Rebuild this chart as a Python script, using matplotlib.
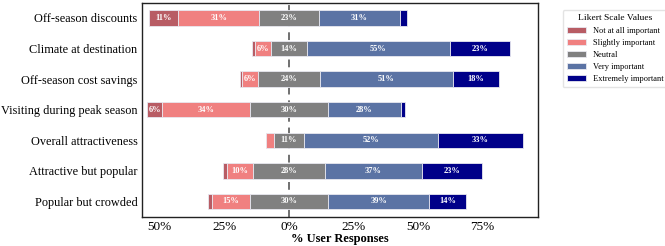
import numpy as np
import matplotlib.pyplot as plt

plt.rcParams['font.family'] = ['Liberation Serif', 'DejaVu Serif']

questions = ["Off-season discounts", "Climate at destination", "Off-season cost savings",
             "Visiting during peak season", "Overall attractiveness",
             "Attractive but popular", "Popular but crowded"]
levels = ["Not at all important", "Slightly important", "Neutral",
          "Very important", "Extremely important"]
colors = ["#b85c64", "#f08080", "#808080", "#5b73a4", "#000089"]

not_at_all = [11.4, 1.2, 0.6, 5.9, 0.0, 1.5, 1.5]
slightly = [31.4, 6.3, 6.3, 33.8, 3.3, 10.0, 14.8]
neutral = [23.0, 13.9, 24.0, 30.4, 11.4, 27.9, 30.2]
very = [31.4, 55.3, 51.4, 28.0, 52.0, 37.4, 39.2]
extremely = [2.7, 23.3, 17.8, 1.8, 32.9, 23.4, 14.4]

data = np.array([not_at_all, slightly, neutral, very, extremely]).T
xticks = [-50, -25, 0, 25, 50, 75]

fig = plt.figure(figsize=(6.65, 2.46), dpi=100)
ax = fig.add_axes([0.213, 0.119, 0.596, 0.870])

y = np.arange(len(questions))
starts = -(data[:, 0] + data[:, 1] + data[:, 2] / 2)

ax.axvline(0, color='#707070', linestyle='--', linewidth=1.4, zorder=0, dashes=(4, 3))

left = starts.copy()
for j, lev in enumerate(levels):
    w = data[:, j]
    ax.barh(y, w, left=left, height=0.5, color=colors[j], edgecolor='#e8e8f0',
            linewidth=0.6, label=lev, zorder=2)
    for i in range(len(y)):
        if w[i] >= 5:
            ax.text(left[i] + w[i] / 2, y[i], f"{w[i]:.0f}%", ha='center', va='center',
                    color='white', fontsize=6, fontweight='bold', zorder=3)
    left = left + w

ax.set_yticks(y)
ax.set_yticklabels(questions, fontsize=8.8)
ax.set_ylim(6.5, -0.5)
ax.set_xlim(-57, 96.4)
ax.set_xticks(xticks)
ax.set_xticklabels([f"{abs(t)}%" for t in xticks], fontsize=9.5)
ax.set_xlabel("% User Responses", fontsize=9, fontweight='bold', labelpad=0)
ax.tick_params(length=0, pad=3)
for s in ax.spines.values():
    s.set_color('#222222')
    s.set_linewidth(1.0)

fig.legend(loc='upper left', bbox_to_anchor=(0.840, 0.975), title="Likert Scale Values",
           fontsize=6, title_fontsize=6.8, frameon=True, handlelength=2.3,
           handleheight=0.7, labelspacing=0.5, borderpad=0.5, edgecolor='#dddddd',
           fancybox=True)

plt.savefig("out.png", dpi=100)
